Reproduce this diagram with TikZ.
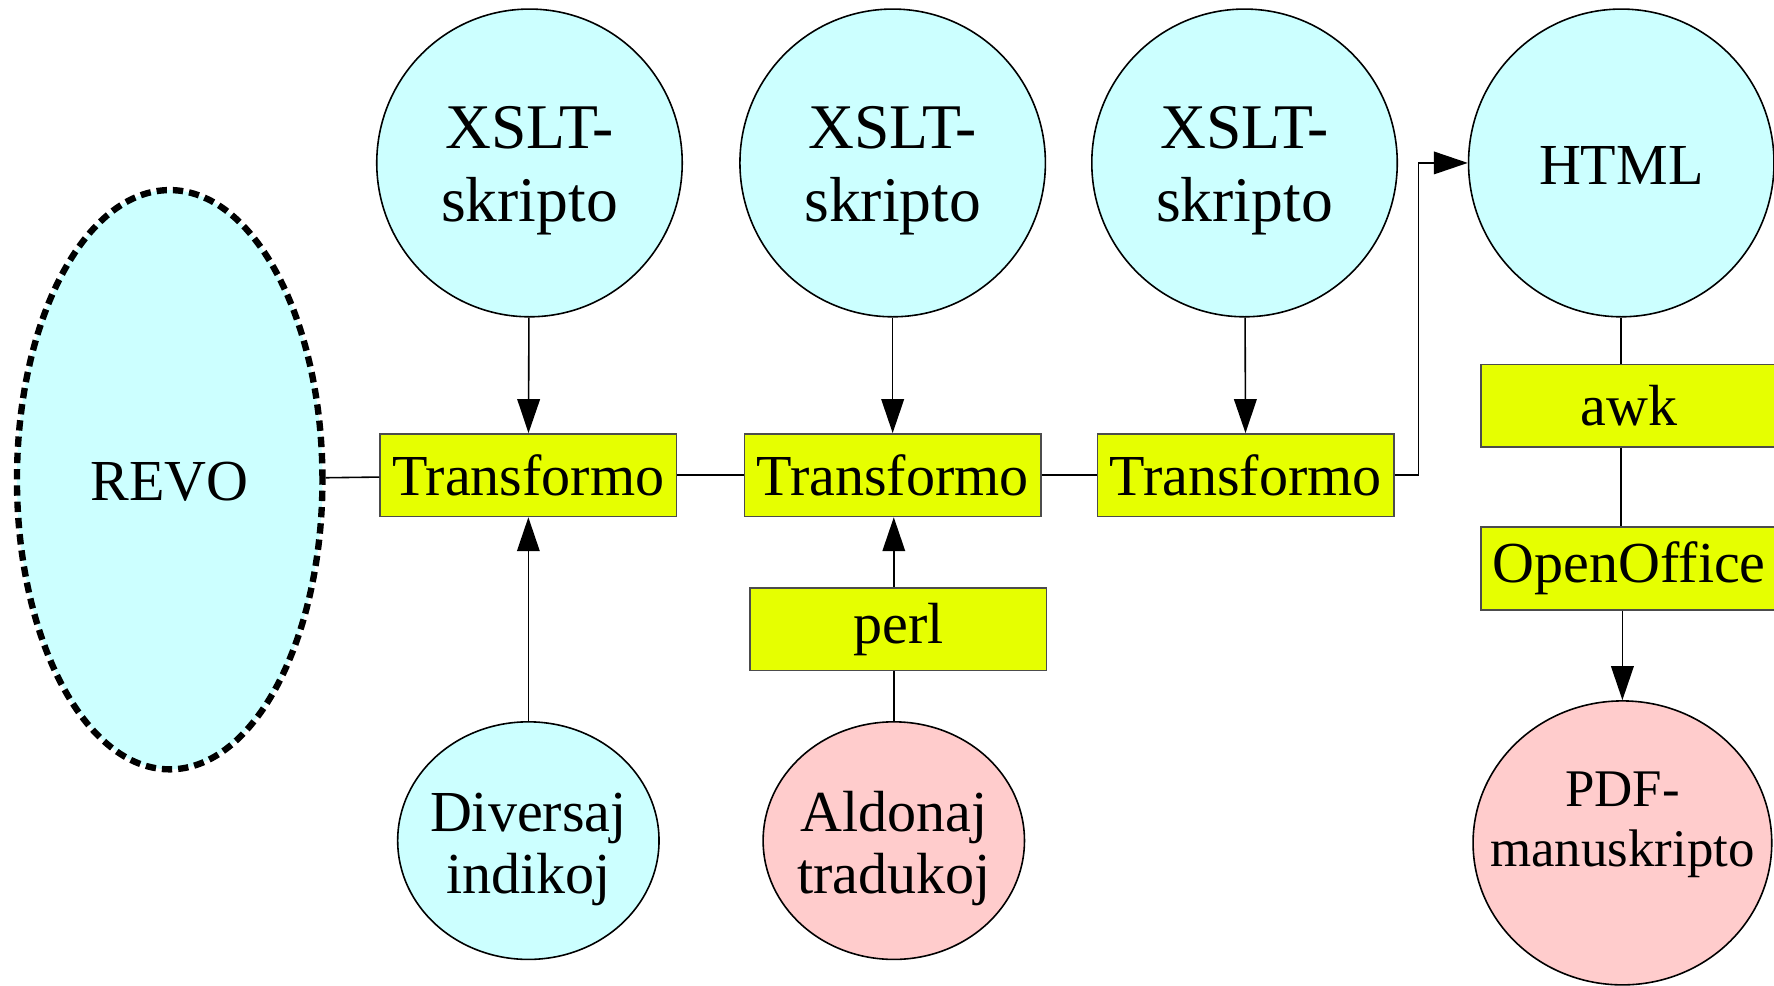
\documentclass[tikz,border=0pt]{standalone}
\usepackage{fontspec}
\setmainfont{Liberation Serif}
\usetikzlibrary{shapes.geometric,arrows.meta}
\definecolor{blucel}{HTML}{CCFFFF}
\definecolor{flava}{HTML}{E6FF00}
\definecolor{roza}{HTML}{FFCCCC}
\begin{document}
\begin{tikzpicture}[line width=0.4pt,
    rondo/.style={draw, ellipse, fill=blucel, inner sep=0pt},
    teksto/.style={align=center, inner sep=0pt, font=\fontsize{14.6}{15.6}\selectfont},
    skripto/.style={rondo, minimum width=2.70cm, minimum height=2.72cm,
      label={[teksto, font=\fontsize{16}{18.2}\selectfont, yshift=-0.07cm]center:XSLT-\\skripto}},
    ilo/.style={draw=black!70, fill=flava, minimum width=2.62cm, minimum height=0.73cm, inner sep=0pt, font=\fontsize{14.6}{15.6}\selectfont},
    sago/.style={-{Triangle[length=0.30cm,width=0.20cm]}}]
      \useasboundingbox (0,0) rectangle (15.68,-8.71);

      \node[rondo, minimum width=2.70cm, minimum height=5.12cm, line width=1.6pt, dash pattern=on 2.6pt off 1.5pt,
        label={[teksto, yshift=-0.02cm]center:REVO}] (revo) at (1.50,-4.24) {};

      \node[skripto] (xslt1) at (4.68,-1.44) {};
      \node[skripto] (xslt2) at (7.89,-1.44) {};
      \node[skripto] (xslt3) at (11.00,-1.44) {};
      \node[rondo, minimum width=2.70cm, minimum height=2.72cm,
        label={[teksto, yshift=-0.02cm]center:HTML}] (html) at (14.33,-1.44) {};

      \node[ilo] (trans1) at (4.67,-4.20) {Transformo};
      \node[ilo] (trans2) at (7.89,-4.20) {Transformo};
      \node[ilo] (trans3) at (11.01,-4.20) {Transformo};
      \node[ilo] (perl) at (7.94,-5.56) {perl};
      \node[ilo] (awk) at (14.40,-3.585) {awk};
      \node[ilo] (oofice) at (14.40,-5.025) {OpenOffice};

      \node[rondo, minimum width=2.31cm, minimum height=2.10cm,
        label={[teksto, yshift=-0.08cm]center:Diversaj\\indikoj}] (diversaj) at (4.67,-7.43) {};
      \node[rondo, fill=roza, minimum width=2.31cm, minimum height=2.10cm,
        label={[teksto, yshift=-0.07cm]center:Aldonaj\\tradukoj}] (aldonaj) at (7.90,-7.43) {};
      \node[rondo, fill=roza, minimum width=2.64cm, minimum height=2.51cm,
        label={[teksto, font=\fontsize{13.3}{15}\selectfont, yshift=0.16cm]center:PDF-\\manuskripto}] (pdf) at (14.34,-7.45) {};

      \draw (revo) -- (trans1);
      \draw (trans1) -- (trans2);
      \draw (trans2) -- (trans3);
      \draw[sago] (trans3.east) -- ++(0.21,0) |- (html.west);

      \draw[sago] (xslt1) -- (trans1);
      \draw[sago] (xslt2) -- (trans2);
      \draw[sago] (xslt3) -- (trans3);
      \draw[sago] (diversaj) -- (trans1);
      \draw (aldonaj.north) -- (aldonaj.north |- perl.south);
      \draw[sago] (perl.north -| aldonaj.north) -- (aldonaj.north |- trans2.south);

      \draw (html.south) -- (html.south |- awk.north);
      \draw (awk.south -| html.south) -- (html.south |- oofice.north);
      \draw[sago] (oofice.south -| pdf.north) -- (pdf.north);
    \end{tikzpicture}
\end{document}
